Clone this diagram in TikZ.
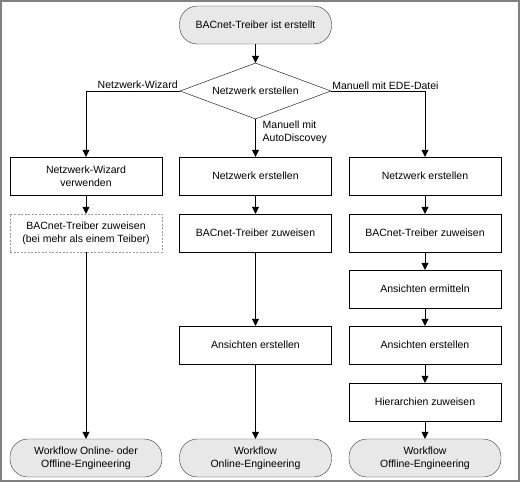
\documentclass[tikz,border=0pt]{standalone}
\usepackage{fontspec}
\setmainfont{Liberation Sans}
\usepackage{xcolor}
\definecolor{termfill}{gray}{0.91}
\definecolor{framegr}{gray}{0.5}
\usetikzlibrary{arrows.meta, shapes.geometric}

\begin{document}
\begin{tikzpicture}[x=1pt, y=-1pt, font=\fontsize{10.5}{13}\selectfont,
box/.style={draw, minimum width=152pt, minimum height=38pt, align=center, inner sep=0pt},
term/.style={box, rounded corners=18pt, fill=termfill, draw=black!80},
dashbox/.style={box, draw=black!40, dash pattern=on 2pt off 1.5pt},
arr/.style={-{Triangle[width=7pt,length=7pt]}}]
\useasboundingbox (0,0) rectangle (520,482);
\draw[framegr, line width=2pt] (1,1) rectangle (519,481);
% start and decision
\node[term] (start) at (255.5,25) {BACnet-Treiber ist erstellt};
\node[draw, diamond, minimum width=151pt, minimum height=56pt, aspect=2.7, inner sep=0pt] (dia) at (255.5,91) {Netzwerk erstellen};
% left column
\node[box] (l1) at (86,176) {Netzwerk-Wizard\\verwenden};
\node[dashbox] (l2) at (86,233) {BACnet-Treiber zuweisen\\(bei mehr als einem Teiber)};
\node[term] (lt) at (86,458) {Workflow Online- oder\\Offline-Engineering};
% middle column
\node[box] (m1) at (255.5,176) {Netzwerk erstellen};
\node[box] (m2) at (255.5,233) {BACnet-Treiber zuweisen};
\node[box] (m3) at (255.5,345) {Ansichten erstellen};
\node[term] (mt) at (255.5,458) {Workflow\\Online-Engineering};
% right column
\foreach \n/\y/\txt in {r1/176/Netzwerk erstellen, r2/233/BACnet-Treiber zuweisen, r3/289/Ansichten ermitteln, r4/345/Ansichten erstellen, r5/402/Hierarchien zuweisen}{
\node[box] (\n) at (425,\y) {\txt};
}
\node[term] (rt) at (425,458) {Workflow\\Offline-Engineering};
% connectors
\draw[arr] (start) -- (dia.north);
\draw[arr] (dia.west) -| (l1.north);
\draw[arr] (dia.south) -- (m1.north);
\draw[arr] (dia.east) -| (r1.north);
\foreach \a/\b in {l1/l2, l2/lt, m1/m2, m2/m3, m3/mt, r1/r2, r2/r3, r3/r4, r4/r5, r5/rt}{
\draw[arr] (\a) -- (\b);
}
% branch labels
\node[anchor=south east, inner sep=2pt] (lwiz) at (dia.west) {Netzwerk-Wizard};
\node[anchor=south west, inner sep=1pt] (lede) at (dia.east) {Manuell mit EDE-Datei};
\node[anchor=north west, align=left, inner sep=1pt] (lauto) at ([xshift=6pt]dia.south) {Manuell mit\\AutoDiscovey};
\end{tikzpicture}
\end{document}
